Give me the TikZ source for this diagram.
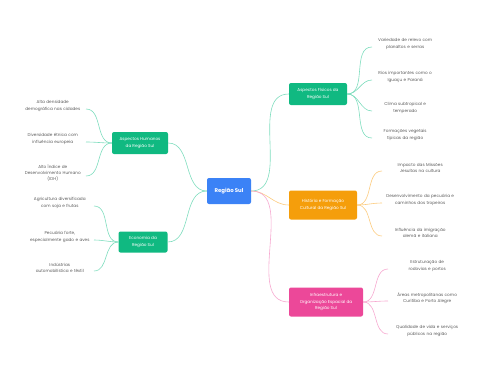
\documentclass[tikz,border=0pt]{standalone}
\usepackage{fontspec}
\setmainfont{Poppins}
\usetikzlibrary{positioning}

\definecolor{rootBlue}{HTML}{3B82F6}
\definecolor{greenFill}{HTML}{10B981}
\definecolor{greenLine}{HTML}{7FDDBE}
\definecolor{orangeFill}{HTML}{F59E0B}
\definecolor{orangeLine}{HTML}{FCCB7E}
\definecolor{pinkFill}{HTML}{EC4899}
\definecolor{pinkLine}{HTML}{F6A8CF}
\definecolor{leafGray}{HTML}{5A5A5A}

\begin{document}
\begin{tikzpicture}[
    x=1pt, y=-1pt,
    font=\fontsize{4.2}{6.4}\selectfont,
    % Color Palette
    greenBox/.style={fill=greenFill},
    orangeBox/.style={fill=orangeFill},
    pinkBox/.style={fill=pinkFill},
    greenLink/.style={draw=greenLine},
    orangeLink/.style={draw=orangeLine},
    pinkLink/.style={draw=pinkLine},
    % Node Styles
    root/.style={rectangle, rounded corners=2pt, fill=rootBlue, text=white, font=\fontsize{5.4}{6.4}\selectfont\bfseries, minimum width=44pt, minimum height=26pt},
    branch/.style={rectangle, rounded corners=2pt, text=white, align=center, inner sep=2pt},
    leaf/.style={text=leafGray, align=center, inner sep=2pt},
    link/.style={line width=0.6pt, out=0, in=180},
    linkL/.style={line width=0.6pt, out=180, in=0}
]
\useasboundingbox (0,0) rectangle (480,384);

% =========================================================
% ROOT
% =========================================================
\node[root] (sul) at (229,191) {Região Sul};

% =========================================================
% BRANCHES
% =========================================================
\node[branch, greenBox, minimum width=58pt, minimum height=22pt] (fisicos) at (318,94) {Aspectos Físicos da\\Região Sul};
\node[branch, orangeBox, minimum width=68pt, minimum height=29pt] (historia) at (323,205) {História e Formação\\Cultural da Região Sul};
\node[branch, pinkBox, minimum width=74pt, minimum height=29pt] (infra) at (326,302) {Infraestrutura e\\Organização Espacial da\\Região Sul};
\node[branch, greenBox, minimum width=56pt, minimum height=22pt] (humanos) at (140,143) {Aspectos Humanos\\da Região Sul};
\node[branch, greenBox, minimum width=49pt, minimum height=21pt] (economia) at (143,242) {Economia da\\Região Sul};

\draw[link, greenLink] (sul.east) to (fisicos.west);
\draw[link, orangeLink] (sul.east) to (historia.west);
\draw[link, pinkLink] (sul.east) to (infra.west);
\draw[linkL, greenLink] (sul.west) to (humanos.east);
\draw[linkL, greenLink] (sul.west) to (economia.east);

% =========================================================
% LEAVES: Aspectos Fisicos
% =========================================================
\node[leaf, text width=62pt, anchor=west] (f1) at (372,44) {Variedade de relevo com\\planaltos e serras};
\node[leaf, text width=62pt, anchor=west] (f2) at (372,77) {Rios importantes como o\\Iguaçu e Paraná};
\node[leaf, text width=62pt, anchor=west] (f3) at (372,108) {Clima subtropical e\\temperado};
\node[leaf, text width=62pt, anchor=west] (f4) at (372,135) {Formações vegetais\\típicas da região};

\foreach \n in {f1,f2,f3,f4}
    \draw[link, greenLink] (fisicos.east) to ([yshift=-3pt]\n.west);

% =========================================================
% LEAVES: Historia
% =========================================================
\node[leaf, text width=72pt, anchor=west] (h1) at (382,168) {Impacto das Missões\\Jesuítas na cultura};
\node[leaf, text width=72pt, anchor=west] (h2) at (382,200) {Desenvolvimento da pecuária e\\caminhos dos tropeiros};
\node[leaf, text width=72pt, anchor=west] (h3) at (382,233) {Influência da imigração\\alemã e italiana};

\foreach \n in {h1,h2,h3}
    \draw[link, orangeLink] (historia.east) to ([yshift=-3pt]\n.west);

% =========================================================
% LEAVES: Infraestrutura
% =========================================================
\node[leaf, text width=74pt, anchor=west] (i1) at (388,266) {Estruturação de\\rodovias e portos};
\node[leaf, text width=74pt, anchor=west] (i2) at (388,298) {Áreas metropolitanas como\\Curitiba e Porto Alegre};
\node[leaf, text width=74pt, anchor=west] (i3) at (388,331) {Qualidade de vida e serviços\\públicos na região};

\foreach \n in {i1,i2,i3}
    \draw[link, pinkLink] (infra.east) to ([yshift=-3pt]\n.west);

% =========================================================
% LEAVES: Aspectos Humanos
% =========================================================
\node[leaf, text width=62pt, anchor=east] (u1) at (86,106) {Alta densidade\\demográfica nas cidades};
\node[leaf, text width=62pt, anchor=east] (u2) at (86,139) {Diversidade étnica com\\influência europeia};
\node[leaf, text width=62pt, anchor=east] (u3) at (86,173) {Alto Índice de\\Desenvolvimento Humano\\(IDH)};

\foreach \n in {u1,u2,u3}
    \draw[linkL, greenLink] (humanos.west) to ([yshift=-3pt]\n.east);

% =========================================================
% LEAVES: Economia
% =========================================================
\node[leaf, text width=64pt, anchor=east] (e1) at (94,203) {Agricultura diversificada\\com soja e frutas};
\node[leaf, text width=64pt, anchor=east] (e2) at (94,237) {Pecuária forte,\\especialmente gado e aves};
\node[leaf, text width=64pt, anchor=east] (e3) at (94,268) {Indústrias\\automobilística e têxtil};

\foreach \n in {e1,e2,e3}
    \draw[linkL, greenLink] (economia.west) to ([yshift=-3pt]\n.east);

\end{tikzpicture}
\end{document}
